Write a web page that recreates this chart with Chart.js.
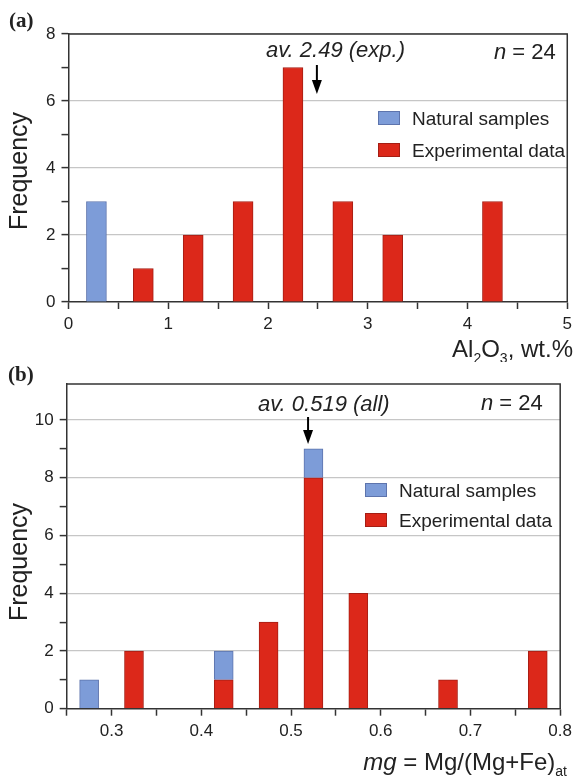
<!DOCTYPE html>
<html>
<head>
<meta charset="utf-8">
<script src="https://cdn.jsdelivr.net/npm/chart.js@4.4.1/dist/chart.umd.min.js"></script>
<style>
    body { margin: 0; background: #fff; }
    canvas { position: absolute; left: 0; }
    #chartA { top: 0; }
    #chartB { top: 362px; }
</style>
</head>
<body>
<canvas id="chartA" width="577" height="362"></canvas>
<canvas id="chartB" width="577" height="415"></canvas>
<script>
// (a) Al2O3 histogram
const alNatX = [0.28];
const alNatY = [3];
const alExpX = [0.75, 1.25, 1.75, 2.25, 2.75, 3.25, 4.25];
const alExpY = [1, 2, 3, 7, 3, 2, 3];
const alXLabels = [0, 1, 2, 3, 4, 5];
const alYLabels = [0, 2, 4, 6, 8];
const alAvg = 2.49;

// (b) mg histogram (natural samples stacked on top of experimental)
const mgNatX = [0.275, 0.425, 0.525];
const mgNatY = [1, 1, 1];
const mgExpX = [0.325, 0.425, 0.475, 0.525, 0.575, 0.675, 0.775];
const mgExpY = [2, 1, 3, 8, 4, 1, 2];
const mgXLabels = [0.3, 0.4, 0.5, 0.6, 0.7, 0.8];
const mgYLabels = [0, 2, 4, 6, 8, 10];
const mgAvg = 0.519;

const FONT = "'Liberation Sans', Arial, sans-serif";
const INK = '#222';
const AXIS = '#333';
const BLUE = '#7d9cd8';
const BLUE_EDGE = '#5d74ad';
const RED = '#dc281a';
const RED_EDGE = '#a51e14';

function toPoints(xs, ys) {
    return xs.map((x, i) => ({ x: x, y: ys[i] }));
}

function near(list, v) {
    return list.some(l => Math.abs(l - v) < 1e-6);
}

// draws a run of text pieces; each piece is [text, style] where style is '', 'i' or 'sub'
function drawPieces(ctx, pieces, x, y, size, align) {
    const fontFor = s => s === 'i' ? `italic ${size}px ${FONT}` : s === 'sub' ? `${Math.round(size * 0.6)}px ${FONT}` : `${size}px ${FONT}`;
    let total = 0;
    pieces.forEach(p => { ctx.font = fontFor(p[1]); total += ctx.measureText(p[0]).width; });
    let cx = align === 'right' ? x - total : x;
    ctx.textAlign = 'left';
    ctx.textBaseline = 'alphabetic';
    pieces.forEach(p => {
        ctx.font = fontFor(p[1]);
        ctx.fillText(p[0], cx, p[1] === 'sub' ? y + size * 0.25 : y);
        cx += ctx.measureText(p[0]).width;
    });
}

const decorPlugin = {
    id: 'decor',
    afterDraw(chart) {
        const d = chart.options.plugins.decor;
        const ctx = chart.ctx;
        const a = chart.chartArea;
        ctx.save();

        // box: top and right edges
        ctx.strokeStyle = AXIS;
        ctx.lineWidth = 1.5;
        ctx.beginPath();
        ctx.moveTo(a.left, a.top);
        ctx.lineTo(a.right, a.top);
        ctx.lineTo(a.right, a.bottom);
        ctx.stroke();

        ctx.fillStyle = INK;

        // panel letter
        ctx.font = `bold 21px 'Liberation Serif', 'Times New Roman', serif`;
        ctx.textAlign = 'left';
        ctx.textBaseline = 'alphabetic';
        ctx.fillText(d.letter, d.letterPos[0], d.letterPos[1]);

        // y title
        ctx.save();
        ctx.translate(d.yTitlePos[0], d.yTitlePos[1]);
        ctx.rotate(-Math.PI / 2);
        ctx.font = `25px ${FONT}`;
        ctx.textAlign = 'center';
        ctx.fillText('Frequency', 0, 0);
        ctx.restore();

        // x title
        drawPieces(ctx, d.xTitle, d.xTitlePos[0], d.xTitlePos[1], 24, 'right');

        // n = 24
        drawPieces(ctx, [['n', 'i'], [' = 24', '']], d.nPos[0], d.nPos[1], 22, 'left');

        // average note and arrow
        ctx.font = `italic 22px ${FONT}`;
        ctx.textAlign = 'left';
        ctx.fillText(d.avgText, d.avgPos[0], d.avgPos[1]);
        const ax = chart.scales.x.getPixelForValue(d.avg);
        const [y1, y2] = d.arrowY;
        ctx.strokeStyle = '#000';
        ctx.lineWidth = 2;
        ctx.beginPath();
        ctx.moveTo(ax, y1);
        ctx.lineTo(ax, y2 - 10);
        ctx.stroke();
        ctx.fillStyle = '#000';
        ctx.beginPath();
        ctx.moveTo(ax - 5, y2 - 14);
        ctx.lineTo(ax + 5, y2 - 14);
        ctx.lineTo(ax, y2);
        ctx.closePath();
        ctx.fill();

        // legend
        const lg = d.legend;
        const items = [['Natural samples', BLUE, BLUE_EDGE], ['Experimental data', RED, RED_EDGE]];
        items.forEach((it, i) => {
            const top = lg.y + i * lg.gap;
            ctx.fillStyle = it[1];
            ctx.fillRect(lg.x, top, 22, 14);
            ctx.strokeStyle = it[2];
            ctx.lineWidth = 1;
            ctx.strokeRect(lg.x + 0.5, top + 0.5, 21, 13);
            ctx.fillStyle = INK;
            ctx.font = `19px ${FONT}`;
            ctx.textAlign = 'left';
            ctx.fillText(it[0], lg.x + 34, top + 14);
        });

        ctx.restore();
    }
};

function makeChart(id, cfg) {
    const canvas = document.getElementById(id);
    const W = canvas.width, H = canvas.height;
    return new Chart(canvas, {
        type: 'bar',
        data: {
            datasets: [
                {
                    label: 'Experimental data',
                    data: toPoints(cfg.expX, cfg.expY),
                    backgroundColor: RED,
                    borderColor: RED_EDGE,
                    borderWidth: 1,
                    barThickness: cfg.barW
                },
                {
                    label: 'Natural samples',
                    data: toPoints(cfg.natX, cfg.natY),
                    backgroundColor: BLUE,
                    borderColor: BLUE_EDGE,
                    borderWidth: 1,
                    barThickness: cfg.barW
                }
            ]
        },
        options: {
            responsive: false,
            animation: false,
            devicePixelRatio: 1,
            layout: { padding: { left: 0, right: W - cfg.area.right, top: cfg.area.top, bottom: 0 } },
            plugins: {
                legend: { display: false },
                tooltip: { enabled: false },
                decor: cfg.decor
            },
            scales: {
                x: {
                    type: 'linear',
                    min: cfg.xMin,
                    max: cfg.xMax,
                    stacked: true,
                    offset: false,
                    border: { color: AXIS, width: 1.5 },
                    grid: { offset: false, drawOnChartArea: false, tickLength: 7, tickColor: AXIS, tickWidth: 1.5 },
                    ticks: {
                        stepSize: cfg.xStep,
                        autoSkip: false,
                        maxRotation: 0,
                        padding: 5,
                        color: INK,
                        font: { family: FONT, size: 17 },
                        callback: v => near(cfg.xLabels, v) ? String(cfg.xLabels.find(l => Math.abs(l - v) < 1e-6)) : ''
                    },
                    afterFit: s => { s.height = H - cfg.area.bottom; }
                },
                y: {
                    min: 0,
                    max: cfg.yMax,
                    stacked: true,
                    border: { color: AXIS, width: 1.5 },
                    grid: {
                        color: c => (c.tick && near(cfg.yLabels, c.tick.value) && c.tick.value > 0) ? '#c6c6c6' : 'rgba(0,0,0,0)',
                        lineWidth: 1.2,
                        tickLength: 7,
                        tickWidth: 1.5,
                        tickColor: c => (c.tick && c.tick.value <= cfg.yTop) ? AXIS : 'rgba(0,0,0,0)'
                    },
                    ticks: {
                        stepSize: 1,
                        autoSkip: false,
                        padding: 6,
                        color: INK,
                        font: { family: FONT, size: 17 },
                        callback: v => near(cfg.yLabels, v) ? String(v) : ''
                    },
                    afterFit: s => { s.width = cfg.area.left; }
                }
            }
        },
        plugins: [decorPlugin]
    });
}

makeChart('chartA', {
    natX: alNatX, natY: alNatY, expX: alExpX, expY: alExpY,
    xLabels: alXLabels, yLabels: alYLabels,
    xMin: 0, xMax: 5, xStep: 0.5, yMax: 8, yTop: 8, barW: 20,
    area: { left: 68.5, right: 572.5, top: 34, bottom: 302 },
    decor: {
        letter: '(a)', letterPos: [9, 27],
        yTitlePos: [27, 171],
        xTitle: [['Al', ''], ['2', 'sub'], ['O', ''], ['3', 'sub'], [', wt.%', '']],
        xTitlePos: [573, 357],
        nPos: [494, 59],
        avgText: 'av. 2.49 (exp.)', avgPos: [266, 57],
        avg: alAvg, arrowY: [65, 94],
        legend: { x: 378, y: 111, gap: 32 }
    }
});

makeChart('chartB', {
    natX: mgNatX, natY: mgNatY, expX: mgExpX, expY: mgExpY,
    xLabels: mgXLabels, yLabels: mgYLabels,
    xMin: 0.25, xMax: 0.8, xStep: 0.05, yMax: 11.25, yTop: 10, barW: 19,
    area: { left: 66.7, right: 564, top: 22, bottom: 346.7 },
    decor: {
        letter: '(b)', letterPos: [8, 19],
        yTitlePos: [27, 200],
        xTitle: [['mg', 'i'], [' = Mg/(Mg+Fe)', ''], ['at', 'sub']],
        xTitlePos: [567, 408],
        nPos: [481, 48],
        avgText: 'av. 0.519 (all)', avgPos: [258, 49],
        avg: mgAvg, arrowY: [55, 82],
        legend: { x: 365, y: 121, gap: 30 }
    }
});
</script>
</body>
</html>
